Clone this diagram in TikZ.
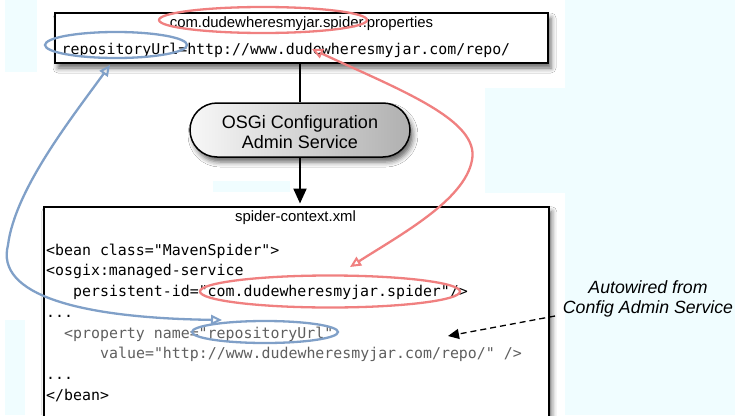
\documentclass[tikz,border=0pt]{standalone}
\usepackage{fontspec}
\setmainfont{Liberation Sans}
\setmonofont{DejaVu Sans Mono}
\usetikzlibrary{arrows.meta,shadows.blur,shapes.geometric}
\definecolor{redl}{RGB}{240,128,128}
\definecolor{bluel}{RGB}{128,160,200}
\definecolor{cyanbg}{RGB}{240,253,255}
\definecolor{codegray}{RGB}{95,95,95}
\tikzset{openhead/.tip={Triangle[open,width=10pt,length=11pt,line width=2pt]}}
\begin{document}
\begin{tikzpicture}[x=1pt,y=-1pt,
  filebox/.style={draw=black,line width=1.5pt,fill=white,inner sep=0pt,
    blur shadow={shadow xshift=3pt,shadow yshift=-5pt,shadow blur radius=5pt,shadow opacity=60}},
  stadium/.style={draw=black,line width=1.5pt,rounded corners=27pt,inner sep=0pt,
    minimum width=220pt,minimum height=54pt,left color=gray!6,right color=gray!62,
    blur shadow={shadow xshift=3pt,shadow yshift=-5pt,shadow blur radius=5pt,shadow opacity=60}},
  sanstext/.style={inner sep=0pt,font=\fontsize{14.9}{18}\selectfont},
  bigtext/.style={inner sep=0pt,anchor=base,font=\fontsize{18}{21}\selectfont},
  itext/.style={inner sep=0pt,anchor=base,font=\fontsize{17.7}{21}\selectfont\itshape},
  mono/.style={inner sep=0pt,anchor=base west,font=\fontsize{14.9}{18}\selectfont\ttfamily},
  graymono/.style={mono,text=codegray},
  ringred/.style={draw=redl,line width=2.3pt,ellipse,inner sep=0pt},
  ringblue/.style={draw=bluel,line width=2.3pt,ellipse,inner sep=0pt},
]
\useasboundingbox (0,0) rectangle (735,415);
\clip (0,0) rectangle (735,415);
% background
\fill[white] (0,0) rectangle (735,415);
\fill[cyanbg] (565,0) rectangle (735,415);
\fill[cyanbg] (485,88) rectangle (565,193);
\fill[cyanbg] (5,0) rectangle (37,72);
\fill[cyanbg] (5,320) rectangle (25,415);
\fill[cyanbg] (213,181) rectangle (290,192);

% boxes
\node[filebox,minimum width=493pt,minimum height=50pt] (props) at (301.5,38) {};
\node[sanstext,anchor=base] (propname) at (301.5,27) {com.dudewheresmyjar.spider.properties};
\node[mono] (propline) at (61.5,54) {repositoryUrl=http://www.dudewheresmyjar.com/repo/};

\node[stadium] (cas) at (300,130) {};
\node[bigtext] (cas1) at (300,128) {OSGi Configuration};
\node[bigtext] (cas2) at (300,148.5) {Admin Service};

\node[filebox,minimum width=505pt,minimum height=240pt,anchor=north west] (ctx) at (43,206) {};
\node[sanstext,anchor=base] (ctxname) at (295.5,221) {spider-context.xml};
\node[mono] (l1) at (46,255) {<bean class="MavenSpider">};
\node[mono] (l2) at (46,275.5) {<osgix:managed-service};
\node[mono] (l3) at (73,296) {persistent-id="com.dudewheresmyjar.spider"/>};
\node[mono] (l4) at (46,317) {...};
\node[graymono] (l5) at (64,338) {<property name="repositoryUrl"};
\node[graymono] (l6) at (100,358.5) {value="http://www.dudewheresmyjar.com/repo/" />};
\node[mono] (l7) at (46,379) {...};
\node[mono] (l8) at (46,400) {</bean>};

\node[itext] (auto1) at (648,293) {Autowired from};
\node[itext] (auto2) at (648,313) {Config Admin Service};

% main flow
\draw[line width=2.2pt] (props.south -| cas.north) -- (cas.north);
\draw[line width=2.2pt,-{Triangle[width=13pt,length=15pt]},shorten >=2.5pt] (cas.south) -- (cas.south |- ctx.north);

% dashed pointer
\coordinate (dstart) at (555,316);
\coordinate (dend) at (448,336);
\draw[line width=1.3pt,dash pattern=on 6pt off 4pt,-{Triangle[width=10pt,length=11pt]}] (dstart) -- (dend);

% highlight rings
\node[ringred,minimum width=208pt,minimum height=26pt] (rtop) at (263,20) {};
\node[ringblue,minimum width=142pt,minimum height=26pt] (btop) at (116,45) {};
\node[ringred,minimum width=260pt,minimum height=32pt] (rbot) at (330,291.5) {};
\node[ringblue,minimum width=146pt,minimum height=22pt] (bbot) at (265,332) {};

% curved links
\coordinate (bt) at (110,65);
\coordinate (bb) at (222,320);
\coordinate (rt) at (312,49);
\coordinate (rb) at (350,267);
\draw[bluel,line width=2.3pt,{openhead}-{openhead}] (bb) .. controls (80,318) and (-5,295) .. (8,245) .. controls (15,190) and (70,120) .. (bt);
\draw[redl,line width=2.3pt,{openhead}-{openhead}] (rt) .. controls (400,90) and (480,120) .. (472,160) .. controls (465,200) and (400,235) .. (rb);
\end{tikzpicture}
\end{document}
